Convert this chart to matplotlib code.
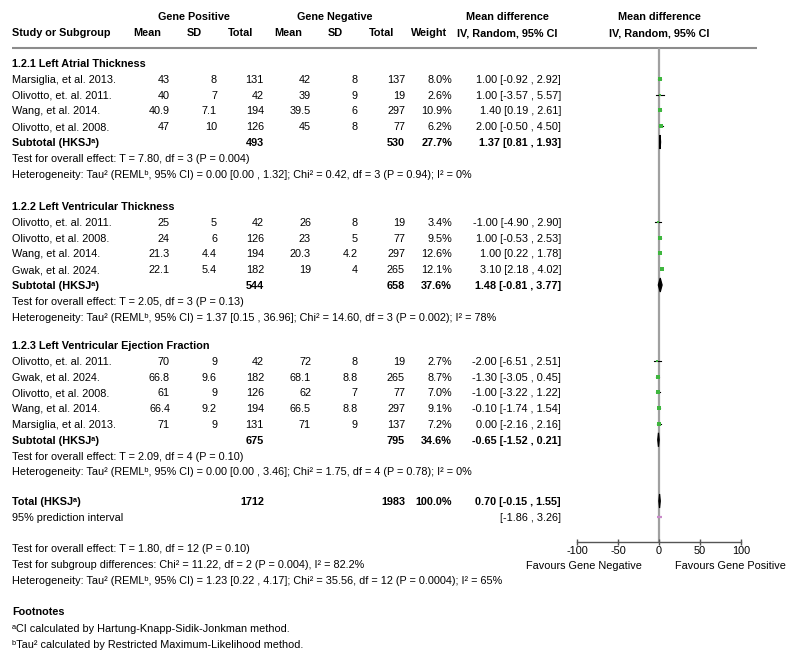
import matplotlib
matplotlib.use("Agg")
import matplotlib.pyplot as plt
import numpy as np

plt.rcParams['font.family'] = ['Liberation Sans', 'DejaVu Sans']

# ---------------- data ----------------
sections = ["1.2.1 Left Atrial Thickness",
            "1.2.2 Left Ventricular Thickness",
            "1.2.3 Left Ventricular Ejection Fraction"]

studies_1 = ["Marsiglia, et al. 2013.", "Olivotto, et. al. 2011.", "Wang, et al. 2014.", "Olivotto, et al. 2008."]
mean_pos_1 = ["43", "40", "40.9", "47"]
sd_pos_1 = ["8", "7", "7.1", "10"]
n_pos_1 = [131, 42, 194, 126]
mean_neg_1 = ["42", "39", "39.5", "45"]
sd_neg_1 = ["8", "9", "6", "8"]
n_neg_1 = [137, 19, 297, 77]
weight_1 = [8.0, 2.6, 10.9, 6.2]
md_1 = [1.00, 1.00, 1.40, 2.00]
lo_1 = [-0.92, -3.57, 0.19, -0.50]
hi_1 = [2.92, 5.57, 2.61, 4.50]

studies_2 = ["Olivotto, et. al. 2011.", "Olivotto, et al. 2008.", "Wang, et al. 2014.", "Gwak, et al. 2024."]
mean_pos_2 = ["25", "24", "21.3", "22.1"]
sd_pos_2 = ["5", "6", "4.4", "5.4"]
n_pos_2 = [42, 126, 194, 182]
mean_neg_2 = ["26", "23", "20.3", "19"]
sd_neg_2 = ["8", "5", "4.2", "4"]
n_neg_2 = [19, 77, 297, 265]
weight_2 = [3.4, 9.5, 12.6, 12.1]
md_2 = [-1.00, 1.00, 1.00, 3.10]
lo_2 = [-4.90, -0.53, 0.22, 2.18]
hi_2 = [2.90, 2.53, 1.78, 4.02]

studies_3 = ["Olivotto, et. al. 2011.", "Gwak, et al. 2024.", "Olivotto, et al. 2008.", "Wang, et al. 2014.", "Marsiglia, et al. 2013."]
mean_pos_3 = ["70", "66.8", "61", "66.4", "71"]
sd_pos_3 = ["9", "9.6", "9", "9.2", "9"]
n_pos_3 = [42, 182, 126, 194, 131]
mean_neg_3 = ["72", "68.1", "62", "66.5", "71"]
sd_neg_3 = ["8", "8.8", "7", "8.8", "9"]
n_neg_3 = [19, 265, 77, 297, 137]
weight_3 = [2.7, 8.7, 7.0, 9.1, 7.2]
md_3 = [-2.00, -1.30, -1.00, -0.10, 0.00]
lo_3 = [-6.51, -3.05, -3.22, -1.74, -2.16]
hi_3 = [2.51, 0.45, 1.22, 1.54, 2.16]

sub_n_pos = [493, 544, 675]
sub_n_neg = [530, 658, 795]
sub_weight = [27.7, 37.6, 34.6]
sub_md = [1.37, 1.48, -0.65]
sub_lo = [0.81, -0.81, -1.52]
sub_hi = [1.93, 3.77, 0.21]
sub_test = ["Test for overall effect: T = 7.80, df = 3 (P = 0.004)",
            "Test for overall effect: T = 2.05, df = 3 (P = 0.13)",
            "Test for overall effect: T = 2.09, df = 4 (P = 0.10)"]
sub_het = ["Heterogeneity: Tau\u00b2 (REML\u1d47, 95% CI) = 0.00 [0.00 , 1.32]; Chi\u00b2 = 0.42, df = 3 (P = 0.94); I\u00b2 = 0%",
           "Heterogeneity: Tau\u00b2 (REML\u1d47, 95% CI) = 1.37 [0.15 , 36.96]; Chi\u00b2 = 14.60, df = 3 (P = 0.002); I\u00b2 = 78%",
           "Heterogeneity: Tau\u00b2 (REML\u1d47, 95% CI) = 0.00 [0.00 , 3.46]; Chi\u00b2 = 1.75, df = 4 (P = 0.78); I\u00b2 = 0%"]

total_n_pos = 1712
total_n_neg = 1983
total_weight = 100.0
total_md = 0.70
total_lo = -0.15
total_hi = 1.55
pi_lo = -1.86
pi_hi = 3.26

overall_lines = ["Test for overall effect: T = 1.80, df = 12 (P = 0.10)",
                 "Test for subgroup differences: Chi\u00b2 = 11.22, df = 2 (P = 0.004), I\u00b2 = 82.2%",
                 "Heterogeneity: Tau\u00b2 (REML\u1d47, 95% CI) = 1.23 [0.22 , 4.17]; Chi\u00b2 = 35.56, df = 12 (P = 0.0004); I\u00b2 = 65%"]
footnotes = ["\u1d43CI calculated by Hartung-Knapp-Sidik-Jonkman method.",
             "\u1d47Tau\u00b2 calculated by Restricted Maximum-Likelihood method."]

xticks = [-100, -50, 0, 50, 100]
label_neg = "Favours Gene Negative"
label_pos = "Favours Gene Positive"

# ---------------- layout ----------------
W, H = 798, 664
FS = 7.8
fig = plt.figure(figsize=(W / 100, H / 100), dpi=100)
tax = fig.add_axes([0, 0, 1, 1])
tax.set_xlim(0, W)
tax.set_ylim(H, 0)
tax.axis('off')

X_STUDY = 12
X_MP, X_SP, X_NP = 170, 217, 264
X_MN, X_SN, X_NN = 311, 358, 405
X_W, X_CI = 452, 561
BASE = 4.0  # baseline offset from visual row centre (px)

def txt(x, y, s, ha='left', bold=False, **kw):
    tax.text(x, y + BASE, s, ha=ha, va='baseline', fontsize=FS,
             fontweight='bold' if bold else 'normal', **kw)

# headers
txt(194, 16, "Gene Positive", ha='center', bold=True)
txt(335, 16, "Gene Negative", ha='center', bold=True)
txt(507, 16, "Mean difference", ha='center', bold=True)
txt(659, 16, "Mean difference", ha='center', bold=True)
txt(X_STUDY, 32, "Study or Subgroup", bold=True)
for x, s in [(147, "Mean"), (194, "SD"), (241, "Total"), (288, "Mean"),
             (335, "SD"), (382, "Total"), (429, "Weight"),
             (507, "IV, Random, 95% CI"), (659, "IV, Random, 95% CI")]:
    txt(x, 32, s, ha='center', bold=True)
tax.plot([12, 757], [47.5, 47.5], color='#8c8c8c', lw=1.5, solid_capstyle='butt')

# forest axes
X0, X1 = 577, 741
Y0, Y1 = 48, 542
fax = fig.add_axes([X0 / W, (H - Y1) / H, (X1 - X0) / W, (Y1 - Y0) / H])
fax.set_xlim(-100, 100)
fax.set_ylim(Y1, Y0)
fax.patch.set_alpha(0)
for sp in ['top', 'left', 'right']:
    fax.spines[sp].set_visible(False)
fax.spines['bottom'].set_color('#555555')
fax.spines['bottom'].set_linewidth(1.0)
fax.set_yticks([])
fax.set_xticks(xticks)
fax.set_xticklabels([str(t) for t in xticks], fontsize=FS)
fax.tick_params(axis='x', direction='inout', length=5, width=1.0, color='#555555', pad=0.5)
fax.axvline(0, color='#a0a0a0', lw=1.6, zorder=1)

GREEN = '#3fb63f'

def draw_study(y, md, lo, hi, w):
    fax.plot([lo, hi], [y, y], color='black', lw=0.8, zorder=3, clip_on=False)
    side_px = 1.35 * np.sqrt(w)
    fax.plot([md], [y], marker='s', ms=side_px * 0.72, color=GREEN,
             mec=GREEN, mew=0, zorder=4, clip_on=False)

def draw_diamond(y, md, lo, hi, h=7):
    fax.fill([lo, md, hi, md], [y, y - h, y, y + h], color='black',
             ec='black', lw=0.9, zorder=4, clip_on=False)

sect_data = [
    (studies_1, mean_pos_1, sd_pos_1, n_pos_1, mean_neg_1, sd_neg_1, n_neg_1, weight_1, md_1, lo_1, hi_1),
    (studies_2, mean_pos_2, sd_pos_2, n_pos_2, mean_neg_2, sd_neg_2, n_neg_2, weight_2, md_2, lo_2, hi_2),
    (studies_3, mean_pos_3, sd_pos_3, n_pos_3, mean_neg_3, sd_neg_3, n_neg_3, weight_3, md_3, lo_3, hi_3),
]
sect_title_y = [63, 206, 345]
ROW = 15.8

for k, (st, mp, sp_, npos, mn, sn, nneg, w, md, lo, hi) in enumerate(sect_data):
    y = sect_title_y[k]
    txt(X_STUDY, y, sections[k], bold=True)
    for i in range(len(st)):
        y += ROW
        txt(X_STUDY, y, st[i])
        txt(X_MP, y, mp[i], ha='right')
        txt(X_SP, y, sp_[i], ha='right')
        txt(X_NP, y, str(npos[i]), ha='right')
        txt(X_MN, y, mn[i], ha='right')
        txt(X_SN, y, sn[i], ha='right')
        txt(X_NN, y, str(nneg[i]), ha='right')
        txt(X_W, y, f"{w[i]:.1f}%", ha='right')
        txt(X_CI, y, f"{md[i]:.2f} [{lo[i]:.2f} , {hi[i]:.2f}]", ha='right')
        draw_study(y, md[i], lo[i], hi[i], w[i])
    y += ROW
    txt(X_STUDY, y, "Subtotal (HKSJ\u1d43)", bold=True)
    txt(X_NP, y, str(sub_n_pos[k]), ha='right', bold=True)
    txt(X_NN, y, str(sub_n_neg[k]), ha='right', bold=True)
    txt(X_W, y, f"{sub_weight[k]:.1f}%", ha='right', bold=True)
    txt(X_CI, y, f"{sub_md[k]:.2f} [{sub_lo[k]:.2f} , {sub_hi[k]:.2f}]", ha='right', bold=True)
    draw_diamond(y, sub_md[k], sub_lo[k], sub_hi[k])
    y += ROW
    txt(X_STUDY, y, sub_test[k])
    y += ROW
    txt(X_STUDY, y, sub_het[k])

# total
yT = 501
txt(X_STUDY, yT, "Total (HKSJ\u1d43)", bold=True)
txt(X_NP, yT, str(total_n_pos), ha='right', bold=True)
txt(X_NN, yT, str(total_n_neg), ha='right', bold=True)
txt(X_W, yT, f"{total_weight:.1f}%", ha='right', bold=True)
txt(X_CI, yT, f"{total_md:.2f} [{total_lo:.2f} , {total_hi:.2f}]", ha='right', bold=True)
draw_diamond(yT, total_md, total_lo, total_hi)

yP = 517
txt(X_STUDY, yP, "95% prediction interval")
txt(X_CI, yP, f"[{pi_lo:.2f} , {pi_hi:.2f}]", ha='right')
fax.plot([pi_lo, pi_hi], [yP, yP], color='#c98ac9', lw=1.6, zorder=4,
         solid_capstyle='butt', clip_on=False)

# favours labels
txt(642, 565, label_neg, ha='right')
txt(675, 565, label_pos, ha='left')

for i, s in enumerate(overall_lines):
    txt(X_STUDY, 548 + i * 16, s)

txt(X_STUDY, 611, "Footnotes", bold=True)
txt(X_STUDY, 628, footnotes[0])
txt(X_STUDY, 644, footnotes[1])

fig.savefig("out.png", dpi=100)
